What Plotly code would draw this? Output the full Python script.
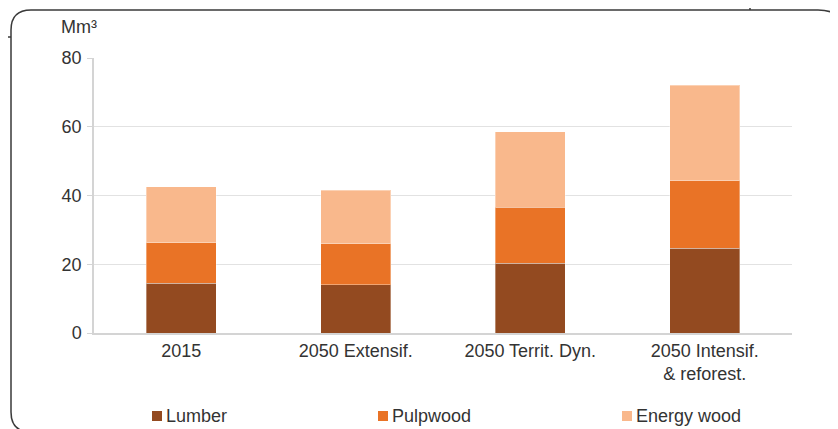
import plotly.graph_objects as go

categories = ["2015", "2050 Extensif.", "2050 Territ. Dyn.", "2050 Intensif.<br>& reforest."]
series_names = ["Lumber", "Pulpwood", "Energy wood"]
lumber = [14.5, 14.0, 20.3, 24.7]
pulpwood = [11.8, 11.9, 16.3, 19.6]
energy_wood = [16.2, 15.7, 21.9, 27.8]
colors = ["#934A20", "#E97326", "#F9B88C"]
y_ticks = [0, 20, 40, 60, 80]
unit_label = "Mm³"

FONT = "Liberation Sans, Arial, Helvetica, sans-serif"
TXT = "#333333"
FS = 18
OFF = 8  # page body margin
W, H = 838 - OFF, 429 - OFF
L, T = 94 - OFF, 58 - OFF
R = W - (792 - OFF)
B = H - (333 - OFF)
PW, PH = W - L - R, H - T - B


def px(x):
    # page pixel -> paper
    return (x - OFF - L) / PW


def py(y):
    return (H - B - (y - OFF)) / PH


fig = go.Figure()
for name, vals, col in zip(series_names, [lumber, pulpwood, energy_wood], colors):
    fig.add_trace(go.Bar(
        x=categories, y=vals, name=name,
        marker=dict(color=col, line=dict(color="rgba(255,255,255,0.35)", width=1)),
        showlegend=False,
    ))

shapes = []
annotations = []

# rounded frame (partially outside the window)
x0, y0, x1, y1 = 11, 10, 846, 432
rl, rr = 20, 28
pts = [
    f"M {px(x0)},{py(y0 + rl)}",
    f"Q {px(x0)},{py(y0)} {px(x0 + rl)},{py(y0)}",
    f"L {px(x1 - rr)},{py(y0)}",
    f"Q {px(x1)},{py(y0)} {px(x1)},{py(y0 + rr)}",
    f"L {px(x1)},{py(y1 - rl)}",
    f"Q {px(x1)},{py(y1)} {px(x1 - rl)},{py(y1)}",
    f"L {px(x0 + rl)},{py(y1)}",
    f"Q {px(x0)},{py(y1)} {px(x0)},{py(y1 - rl)}",
    "Z",
]
shapes.append(dict(type="path", xref="paper", yref="paper", path=" ".join(pts),
                   line=dict(color="#3a3a3a", width=1.5), layer="below"))
shapes.append(dict(type="line", xref="paper", yref="paper", x0=px(0), x1=px(x0),
                   y0=py(37), y1=py(37), line=dict(color="#3a3a3a", width=1.5)))
shapes.append(dict(type="line", xref="paper", yref="paper", x0=px(750), x1=px(750),
                   y0=py(0), y1=py(y0), line=dict(color="#3a3a3a", width=1.5)))

# legend
leg_x = [152, 378, 622]
for name, col, lx in zip(series_names, colors, leg_x):
    shapes.append(dict(type="rect", xref="paper", yref="paper",
                       x0=px(lx), x1=px(lx + 10), y0=py(421), y1=py(411),
                       fillcolor=col, line=dict(width=0)))
    annotations.append(dict(text=name, xref="paper", yref="paper", x=px(lx + 12), y=py(416),
                            xanchor="left", yanchor="middle", showarrow=False,
                            font=dict(size=FS, color=TXT, family=FONT)))

annotations.append(dict(text=unit_label, xref="paper", yref="paper", x=px(59), y=py(27),
                        xanchor="left", yanchor="middle", showarrow=False,
                        font=dict(size=FS, color=TXT, family=FONT)))

fig.update_layout(
    width=W, height=H,
    margin=dict(l=L, r=R, t=T, b=B, pad=0),
    barmode="stack", bargap=0.6,
    paper_bgcolor="white", plot_bgcolor="white",
    font=dict(family=FONT, size=FS, color=TXT),
    shapes=shapes, annotations=annotations,
    showlegend=False,
    xaxis=dict(showline=True, linecolor="#D4D4D4", linewidth=2, ticks="",
               tickfont=dict(size=FS, color=TXT), showgrid=False),
    yaxis=dict(range=[0, 80], tickvals=y_ticks, showgrid=True, gridcolor="#E2E2E2", gridwidth=1,
               showline=True, linecolor="#D4D4D4", linewidth=1.5, ticks="outside", ticklen=5,
               tickcolor="#D4D4D4", tickfont=dict(size=FS, color=TXT), zeroline=False,
               ticklabelstandoff=2),
)

fig.write_html("out.html")
